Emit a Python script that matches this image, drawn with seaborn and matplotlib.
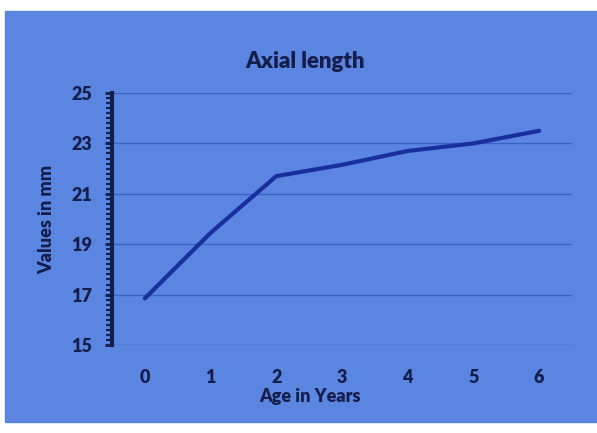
import matplotlib
matplotlib.use("Agg")
import matplotlib.pyplot as plt
from matplotlib.patches import Rectangle
from matplotlib.ticker import MultipleLocator
import seaborn as sns
import pandas as pd

idade = [0, 1, 2, 3, 4, 5, 6]
comprimento = [16.85, 19.45, 21.7, 22.15, 22.7, 23.0, 23.5]
y_ticks = [15, 17, 19, 21, 23, 25]

tabela = pd.DataFrame({"Age": idade, "Axial": comprimento})

fundo = "#5a86e2"
texto = "#151d4a"
linha = "#1b2e9e"

sns.set_theme(style="white")
plt.rcParams["font.family"] = ["Lato", "DejaVu Sans"]

fig = plt.figure(figsize=(5.97, 4.33), dpi=100)
fig.patch.set_facecolor("white")
# retângulo azul do slide, atrás dos eixos
fig.patches.append(Rectangle((5 / 597, 11 / 433), 592 / 597, 411 / 433,
                             transform=fig.transFigure, color=fundo, zorder=-10))

ax = fig.add_axes([112 / 597, 1 - 345 / 433, 460 / 597, 252 / 433])
ax.patch.set_alpha(0)

sns.lineplot(data=tabela, x="Age", y="Axial", ax=ax, color=linha, linewidth=3)

ax.set_xlim(-0.5, 6.5)
ax.set_ylim(15, 25)
ax.set_xticks(idade)
ax.set_yticks(y_ticks)
ax.yaxis.set_minor_locator(MultipleLocator(0.2))

ax.grid(axis="y", color="#3a60c4", linewidth=1)
for lado in ["top", "right", "bottom"]:
    ax.spines[lado].set_visible(False)
ax.spines["left"].set_color(texto)
ax.spines["left"].set_linewidth(3)

ax.tick_params(axis="y", which="major", direction="out", length=5, width=2,
               color=texto, pad=9, labelsize=13, labelcolor=texto, left=True)
ax.tick_params(axis="y", which="minor", direction="out", length=4, width=1.5,
               color=texto, left=True)
ax.tick_params(axis="x", length=0, pad=17, labelsize=13, labelcolor=texto)
for lab in ax.get_xticklabels() + ax.get_yticklabels():
    lab.set_fontweight("heavy")

ax.set_xlabel("Age in Years", fontsize=13, fontweight="heavy", color=texto, labelpad=-2)
ax.xaxis.set_label_coords((310 - 112) / 460, -0.17)
ax.set_ylabel("Values in mm", fontsize=13, fontweight="heavy", color=texto, labelpad=12)
ax.set_title("Axial length", fontsize=16, fontweight="heavy", color=texto,
             x=(305 - 112) / 460, pad=18)

fig.savefig("out.png", dpi=100)
